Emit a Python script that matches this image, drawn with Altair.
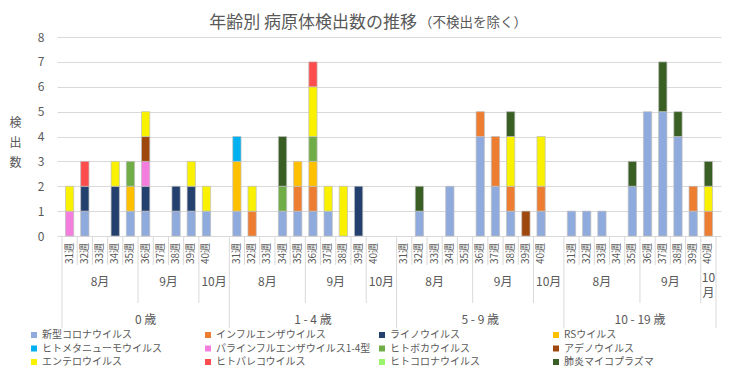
import altair as alt
import pandas as pd

FONT = "Noto Sans CJK JP"
TXT = "#595959"
GRID = "#D9D9D9"

title_main = "年齢別 病原体検出数の推移"
title_sub = "（不検出を除く）"
y_title = ["検", "出", "数"]

age_groups = ["0 歳", "1 - 4 歳", "5 - 9 歳", "10 - 19 歳"]
weeks = ["31週", "32週", "33週", "34週", "35週", "36週", "37週", "38週", "39週", "40週"]
months = ["8月", "9月", "10月"]
month_weeks = [5, 4, 1]          # weeks in each month
group_slots = [11, 11, 11, 10]    # category slots per age group (Excel blank row after groups 1-3)

series_names = [
    "新型コロナウイルス", "インフルエンザウイルス", "ライノウイルス", "RSウイルス",
    "ヒトメタニューモウイルス", "パラインフルエンザウイルス1-4型", "ヒトボカウイルス", "アデノウイルス",
    "エンテロウイルス", "ヒトパレコウイルス", "ヒトコロナウイルス", "肺炎マイコプラズマ",
]
series_colors = [
    "#8FAADC", "#ED7D31", "#24406E", "#FFC000",
    "#00B0F0", "#F47EDD", "#70AD47", "#9E480E",
    "#F9F100", "#FF4D4D", "#9AF56A", "#3A5F25",
]

# values per series: 4 age groups x weeks 31..40
corona = [0, 1, 0, 0, 1, 1, 0, 1, 1, 1,
          1, 0, 0, 1, 1, 1, 1, 0, 0, 0,
          0, 1, 0, 2, 0, 4, 2, 1, 0, 1,
          1, 1, 1, 0, 2, 5, 5, 4, 1, 0]
flu = [0, 0, 0, 0, 0, 0, 0, 0, 0, 0,
       0, 1, 0, 0, 1, 1, 0, 0, 0, 0,
       0, 0, 0, 0, 0, 1, 2, 1, 0, 1,
       0, 0, 0, 0, 0, 0, 0, 0, 1, 1]
rhino = [0, 1, 0, 2, 0, 1, 0, 1, 1, 0,
         0, 0, 0, 0, 0, 0, 0, 0, 2, 0,
         0, 0, 0, 0, 0, 0, 0, 0, 0, 0,
         0, 0, 0, 0, 0, 0, 0, 0, 0, 0]
rsv = [0, 0, 0, 0, 1, 0, 0, 0, 0, 0,
       2, 0, 0, 0, 1, 1, 0, 0, 0, 0,
       0, 0, 0, 0, 0, 0, 0, 0, 0, 0,
       0, 0, 0, 0, 0, 0, 0, 0, 0, 0]
hmpv = [0, 0, 0, 0, 0, 0, 0, 0, 0, 0,
        1, 0, 0, 0, 0, 0, 0, 0, 0, 0,
        0, 0, 0, 0, 0, 0, 0, 0, 0, 0,
        0, 0, 0, 0, 0, 0, 0, 0, 0, 0]
para = [1, 0, 0, 0, 0, 1, 0, 0, 0, 0,
        0, 0, 0, 0, 0, 0, 0, 0, 0, 0,
        0, 0, 0, 0, 0, 0, 0, 0, 0, 0,
        0, 0, 0, 0, 0, 0, 0, 0, 0, 0]
boca = [0, 0, 0, 0, 1, 0, 0, 0, 0, 0,
        0, 0, 0, 1, 0, 1, 0, 0, 0, 0,
        0, 0, 0, 0, 0, 0, 0, 0, 0, 0,
        0, 0, 0, 0, 0, 0, 0, 0, 0, 0]
adeno = [0, 0, 0, 0, 0, 1, 0, 0, 0, 0,
         0, 0, 0, 0, 0, 0, 0, 0, 0, 0,
         0, 0, 0, 0, 0, 0, 0, 0, 1, 0,
         0, 0, 0, 0, 0, 0, 0, 0, 0, 0]
entero = [1, 0, 0, 1, 0, 1, 0, 0, 1, 1,
          0, 1, 0, 0, 0, 2, 1, 2, 0, 0,
          0, 0, 0, 0, 0, 0, 0, 2, 0, 2,
          0, 0, 0, 0, 0, 0, 0, 0, 0, 1]
pareco = [0, 1, 0, 0, 0, 0, 0, 0, 0, 0,
          0, 0, 0, 0, 0, 1, 0, 0, 0, 0,
          0, 0, 0, 0, 0, 0, 0, 0, 0, 0,
          0, 0, 0, 0, 0, 0, 0, 0, 0, 0]
hcov = [0] * 40
myco = [0, 0, 0, 0, 0, 0, 0, 0, 0, 0,
        0, 0, 0, 2, 0, 0, 0, 0, 0, 0,
        0, 1, 0, 0, 0, 0, 0, 1, 0, 0,
        0, 0, 0, 0, 1, 0, 2, 1, 0, 1]
series_values = [corona, flu, rhino, rsv, hmpv, para, boca, adeno, entero, pareco, hcov, myco]

# ---- build tables ----
starts = [sum(group_slots[:g]) for g in range(len(age_groups))]
n_slots = sum(group_slots)

bar_rows, week_rows, month_rows, age_rows = [], [], [], []
tick_rows, msep_rows, asep_rows = [], [], []
for g, age in enumerate(age_groups):
    s0 = starts[g]
    for i, wk in enumerate(weeks):
        week_rows.append({"xc": s0 + i + 0.5, "label": wk})
        for k, name in enumerate(series_names):
            v = series_values[k][g * len(weeks) + i]
            if v > 0:
                bar_rows.append({"xc": s0 + i + 0.5, "series": name, "count": v, "ord": k})
    off = 0
    for m, (mon, nw) in enumerate(zip(months, month_weeks)):
        end = off + nw
        if m == len(months) - 1:
            end = group_slots[g]
        label = mon
        if end - off < 2:
            label = [mon[:-1], mon[-1]]
        month_rows.append({"xc": s0 + (off + end) / 2, "label": label})
        for j in range(off + 1, off + nw):
            tick_rows.append({"xc": s0 + j})
        if m > 0:
            msep_rows.append({"xc": s0 + off})
        off += nw
    age_rows.append({"xc": s0 + group_slots[g] / 2, "label": age})
    asep_rows.append({"xc": s0})
asep_rows.append({"xc": n_slots})

bars_df = pd.DataFrame(bar_rows)
week_df = pd.DataFrame(week_rows)
month_single = pd.DataFrame([r for r in month_rows if isinstance(r["label"], str)])
month_multi = pd.DataFrame([r for r in month_rows if not isinstance(r["label"], str)])
age_df = pd.DataFrame(age_rows)

xscale = alt.Scale(domain=[0, n_slots], nice=False, zero=False)
X = alt.X("xc:Q", scale=xscale, axis=None)

bars = alt.Chart(bars_df).mark_bar(
    width=8.3, orient="vertical", stroke="#BFBFBF", strokeWidth=0.7
).encode(
    x=X,
    y=alt.Y(
        "count:Q", stack="zero",
        scale=alt.Scale(domain=[0, 8], nice=False),
        axis=alt.Axis(
            values=list(range(9)), grid=True, gridColor=GRID, domain=False, ticks=False,
            labelPadding=13, labelFontSize=12, labelColor=TXT, labelFont=FONT,
            title=y_title, titleAngle=0, titleX=-42, titleY=80, titleLineHeight=20,
            titleBaseline="top", titleAlign="center", titleFontSize=12,
            titleFontWeight="normal", titleColor=TXT, titleFont=FONT,
        ),
    ),
    color=alt.Color(
        "series:N",
        scale=alt.Scale(domain=series_names, range=series_colors),
        legend=alt.Legend(
            orient="none", legendX=-28, legendY=293, columns=4, direction="horizontal",
            gridAlign="all", columnPadding=6, rowPadding=3.5, symbolType="square",
            symbolSize=36, symbolStrokeWidth=0, labelFontSize=10, labelColor=TXT,
            labelFont=FONT, labelLimit=220, labelOffset=3, title=None, padding=0,
        ),
    ),
    order=alt.Order("ord:Q", sort="ascending"),
)


def rules(rows, y2):
    return alt.Chart(pd.DataFrame(rows)).mark_rule(color=GRID, strokeWidth=1).encode(
        x=X, y=alt.value(199), y2=alt.value(y2)
    )


week_text = alt.Chart(week_df).mark_text(
    angle=270, align="right", baseline="middle", fontSize=10, color=TXT, font=FONT
).encode(x=X, y=alt.value(206), text="label:N")

month_text = alt.Chart(month_single).mark_text(
    align="center", baseline="middle", fontSize=12, color=TXT, font=FONT
).encode(x=X, y=alt.value(245), text="label:N")

month_text2 = alt.Chart(month_multi).mark_text(
    align="center", baseline="top", fontSize=12, color=TXT, font=FONT, lineHeight=15
).encode(x=X, y=alt.value(236), text="label")

age_text = alt.Chart(age_df).mark_text(
    align="center", baseline="middle", fontSize=12, color=TXT, font=FONT
).encode(x=X, y=alt.value(283), text="label:N")

t1 = alt.Chart(pd.DataFrame({"t": [title_main]})).mark_text(
    align="right", baseline="middle", fontSize=17, color=TXT, font=FONT
).encode(x=alt.value(360), y=alt.value(-14.5), text="t:N")
t2 = alt.Chart(pd.DataFrame({"t": [title_sub]})).mark_text(
    align="left", baseline="middle", fontSize=13.5, color=TXT, font=FONT
).encode(x=alt.value(362), y=alt.value(-14), text="t:N")

chart = alt.layer(
    rules(tick_rows, 228), rules(msep_rows, 266), rules(asep_rows, 291),
    bars, week_text, month_text, month_text2, age_text, t1, t2,
).properties(
    width=664, height=199, autosize="none",
    padding={"left": 49, "top": 29, "right": 11, "bottom": 131},
    background="white",
).configure_view(stroke=None)

chart.save("out.html", embed_options={"renderer": "svg", "actions": False})
